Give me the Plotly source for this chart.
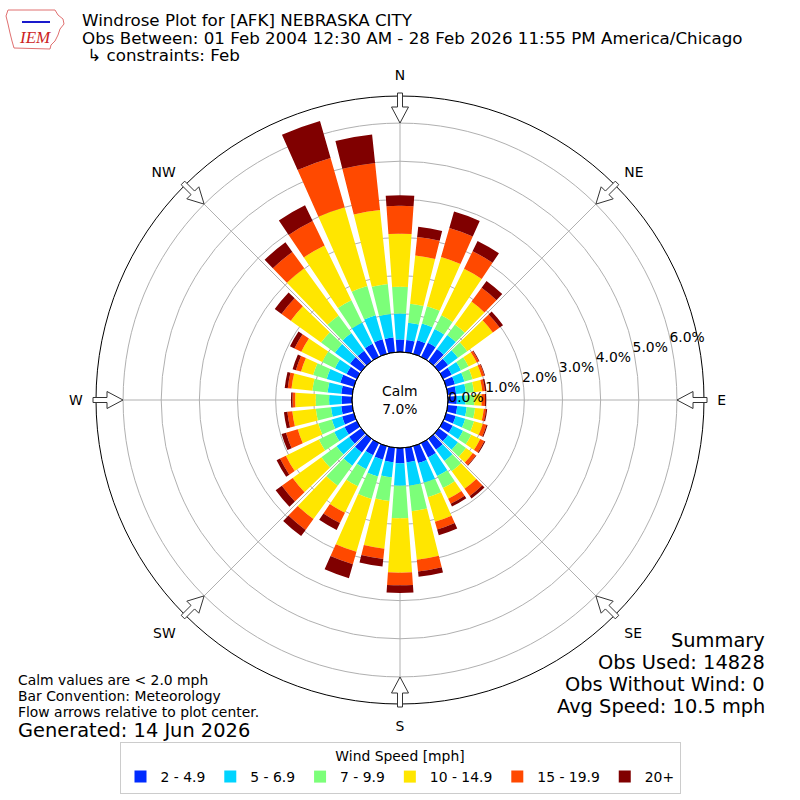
import math
import plotly.graph_objects as go

# wind directions (deg, meteorological) and speed bins
directions = list(range(0, 360, 10))
speed_bins = ["2 - 4.9", "5 - 6.9", "7 - 9.9", "10 - 14.9", "15 - 19.9", "20+"]
bin_colors = ["#002bff", "#00d4ff", "#7cff79", "#ffe600", "#ff4900", "#800000"]
compass_labels = ["N", "NE", "E", "SE", "S", "SW", "W", "NW"]
compass_angles = [0, 45, 90, 135, 180, 225, 270, 315]
radial_ticks = [0, 1, 2, 3, 4, 5, 6]

# frequency (%) for each speed bin, one value per direction (0, 10, ... 350)
pct_2_5 = [0.33, 0.32, 0.37, 0.41, 0.39, 0.30, 0.25, 0.24, 0.22, 0.23, 0.25, 0.26,
           0.28, 0.30, 0.35, 0.42, 0.46, 0.38, 0.40, 0.38, 0.37, 0.35, 0.44, 0.39,
           0.36, 0.32, 0.29, 0.27, 0.29, 0.37, 0.30, 0.36, 0.34, 0.38, 0.40, 0.39]
pct_5_7 = [0.68, 0.46, 0.46, 0.40, 0.46, 0.32, 0.27, 0.26, 0.26, 0.23, 0.25, 0.26,
           0.30, 0.32, 0.37, 0.54, 0.54, 0.62, 0.59, 0.40, 0.46, 0.41, 0.43, 0.41,
           0.30, 0.28, 0.27, 0.33, 0.36, 0.37, 0.34, 0.49, 0.57, 0.62, 0.65, 0.62]
pct_7_10 = [0.70, 0.50, 0.47, 0.40, 0.34, 0.30, 0.22, 0.22, 0.21, 0.23, 0.22, 0.24,
            0.24, 0.26, 0.33, 0.35, 0.39, 0.67, 0.85, 0.62, 0.61, 0.50, 0.65, 0.49,
            0.45, 0.37, 0.40, 0.35, 0.40, 0.37, 0.37, 0.45, 0.57, 0.65, 0.80, 0.79]
pct_10_15 = [1.39, 1.27, 1.34, 1.36, 0.74, 0.83, 0.24, 0.25, 0.22, 0.19, 0.23, 0.24,
             0.26, 0.22, 0.57, 0.31, 0.67, 1.28, 1.43, 1.26, 1.44, 0.77, 1.08, 0.93,
             0.96, 0.56, 0.62, 0.54, 0.55, 0.33, 0.61, 0.98, 1.53, 1.60, 2.15, 1.95]
pct_15_20 = [0.73, 0.49, 0.79, 0.51, 0.45, 0.22, 0.06, 0.07, 0.07, 0.09, 0.06, 0.10,
             0.12, 0.10, 0.23, 0.15, 0.21, 0.31, 0.33, 0.27, 0.34, 0.30, 0.35, 0.35,
             0.17, 0.32, 0.13, 0.07, 0.10, 0.14, 0.20, 0.30, 0.53, 0.71, 1.34, 1.24]
pct_20 = [0.28, 0.27, 0.45, 0.30, 0.22, 0.11, 0.02, 0.02, 0.04, 0.03, 0.03, 0.03,
          0.03, 0.02, 0.08, 0.08, 0.16, 0.14, 0.20, 0.20, 0.38, 0.20, 0.20, 0.20,
          0.10, 0.12, 0.09, 0.04, 0.08, 0.09, 0.13, 0.22, 0.31, 0.46, 1.01, 0.75]

calm_pct = 7.0
r_max = 6.71
hole = 0.158

# pixel geometry of the polar plot (figure is 800x800, no margins)
W = 800
CX, CY, R_OUT = 400, 400, 304
FONT = "DejaVu Sans"


def to_paper(px, py):
    return px / W, 1 - py / W


def arrow_path(deg):
    # outlined flow arrow sitting on the outer ring, pointing to the center
    t = math.radians(deg)
    pts = [(307, -2.5), (293, -2.5), (293, -8.5), (277, 0), (293, 8.5), (293, 2.5), (307, 2.5)]
    out = []
    for r, w in pts:
        px = CX + r * math.sin(t) + w * math.cos(t)
        py = CY - r * math.cos(t) + w * math.sin(t)
        x, y = to_paper(px, py)
        out.append(f"{x:.5f},{y:.5f}")
    return "M " + " L ".join(out) + " Z"


fig = go.Figure()

series = [pct_2_5, pct_5_7, pct_7_10, pct_10_15, pct_15_20, pct_20]
for name, color, vals in zip(speed_bins, bin_colors, series):
    fig.add_trace(go.Barpolar(
        r=vals, theta=directions, width=8, name=name,
        marker=dict(color=color, line=dict(width=0)),
    ))

fig.update_layout(
    width=800, height=800,
    margin=dict(l=0, r=0, t=0, b=0),
    paper_bgcolor="white",
    font=dict(family=FONT, size=13.9, color="black"),
    polar=dict(
        domain=dict(x=[0.12, 0.88], y=[0.12, 0.88]),
        hole=hole,
        bgcolor="white",
        barmode="stack",
        radialaxis=dict(
            range=[0, r_max], tickvals=radial_ticks,
            ticktext=[f"{v:.1f}%" for v in radial_ticks],
            angle=15, tickangle=15, side="clockwise",
            showline=False, ticks="",
            gridcolor="#b0b0b0", gridwidth=1,
            tickfont=dict(size=13.9),
        ),
        angularaxis=dict(
            rotation=90, direction="clockwise",
            tickmode="array", tickvals=compass_angles, ticktext=compass_labels,
            showline=True, linecolor="black", linewidth=1,
            gridcolor="#b0b0b0", gridwidth=1,
            ticks="outside", ticklen=10, tickcolor="rgba(0,0,0,0)",
            tickfont=dict(size=13.9),
        ),
    ),
    legend=dict(
        orientation="h", x=0.5, xanchor="center", y=1 - 742 / W, yanchor="top",
        title=dict(text="Wind Speed [mph]", side="top center", font=dict(size=13.9)),
        bordercolor="#cccccc", borderwidth=1, font=dict(size=13.9),
        itemwidth=30,
    ),
)

shapes = []
for a in compass_angles:
    shapes.append(dict(type="path", xref="paper", yref="paper", path=arrow_path(a),
                       fillcolor="white", line=dict(color="#333333", width=1)))

# black outline of the calm circle
hr = hole * R_OUT
x0, y1 = to_paper(CX - hr, CY - hr)
x1, y0 = to_paper(CX + hr, CY + hr)
shapes.append(dict(type="circle", xref="paper", yref="paper", x0=x0, x1=x1, y0=y0, y1=y1,
                   line=dict(color="black", width=1)))

# IEM logo: rough state outline with wind glyph
logo = [(8, 10), (55, 10), (58, 15), (63, 19), (64, 24), (60, 29), (58, 35), (55, 41),
        (51, 45), (50, 49), (14, 48), (12, 41), (10, 33), (8, 24), (6, 16)]
lp = "M " + " L ".join("%.5f,%.5f" % to_paper(px, py) for px, py in logo) + " Z"
shapes.append(dict(type="path", xref="paper", yref="paper", path=lp,
                   line=dict(color="#e07070", width=1)))
gx0, gy0 = to_paper(22, 22)
gx1, gy1 = to_paper(50, 22)
shapes.append(dict(type="line", xref="paper", yref="paper", x0=gx0, y0=gy0, x1=gx1, y1=gy1,
                   line=dict(color="#1a1acc", width=2)))
fig.update_layout(shapes=shapes)

ann = []


def text(px, py, s, size, anchor="left", color="black", **kw):
    x, y = to_paper(px, py)
    ann.append(dict(x=x, y=y, xref="paper", yref="paper", text=s, showarrow=False,
                    xanchor=anchor, yanchor="middle", align=anchor,
                    font=dict(size=size, color=color, family=kw.get("family", FONT),
                              style=kw.get("style", "normal"))))


text(35, 38, "IEM", 17, anchor="center", color="#cc2222", family="Liberation Serif", style="italic")
text(80, 20, "Windrose Plot for [AFK] NEBRASKA CITY", 16.7)
text(80, 38, "Obs Between: 01 Feb 2004 12:30 AM - 28 Feb 2026 11:55 PM America/Chicago", 16.7)
text(80, 55, " ↳ constraints: Feb", 16.7)

text(16, 680, "Calm values are &lt; 2.0 mph", 13.9)
text(16, 696, "Bar Convention: Meteorology", 13.9)
text(16, 712, "Flow arrows relative to plot center.", 13.9)
text(16, 730, "Generated: 14 Jun 2026", 19.4)

text(767, 640, "Summary", 19.4, anchor="right")
text(767, 662, "Obs Used: 14828", 19.4, anchor="right")
text(767, 684, "Obs Without Wind: 0", 19.4, anchor="right")
text(767, 706, "Avg Speed: 10.5 mph", 19.4, anchor="right")

text(400, 400, f"Calm<br>{calm_pct:.1f}%", 13.9, anchor="center")

fig.update_layout(annotations=ann)

# drop the browser's default body margin so the 800x800 figure fills the window
fig.write_html("out.html", config={"displayModeBar": False},
               post_script="document.body.style.margin='0';")
